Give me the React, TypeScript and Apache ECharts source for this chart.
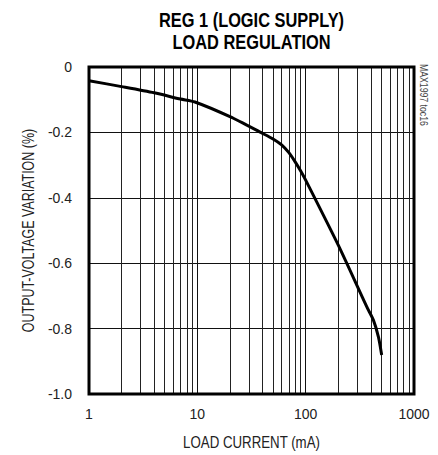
import React, { useEffect, useRef } from "react";
import * as echarts from "echarts";

const loadCurrent = [1, 2, 4, 7, 9.5, 20, 40, 50, 60, 70, 80, 90, 100, 200, 366, 422, 470, 503];
const voltageVariation = [-0.042, -0.06, -0.079, -0.098, -0.107, -0.152, -0.203, -0.22, -0.238, -0.262, -0.29, -0.318, -0.346, -0.545, -0.733, -0.774, -0.826, -0.881];
const minorGridValues = [2, 3, 4, 5, 6, 7, 8, 9, 20, 30, 40, 50, 60, 70, 80, 90, 200, 300, 400, 500, 600, 700, 800, 900];
const titleLines = ["REG 1 (LOGIC SUPPLY)", "LOAD REGULATION"];
const xAxisName = "LOAD CURRENT (mA)";
const yAxisName = "OUTPUT-VOLTAGE VARIATION (%)";
const sideNote = "MAX1997 toc16";

const FONT = '"Liberation Sans", Arial, sans-serif';

export default function App() {
  const ref = useRef<HTMLDivElement>(null);
  useEffect(() => {
    if (!ref.current) return;
    const chart = echarts.init(ref.current, undefined, { renderer: "svg" });
    const data = loadCurrent.map((x, i) => [x, voltageVariation[i]]);
    chart.setOption({
      animation: false,
      backgroundColor: "#fff",
      grid: {
        left: 89,
        right: 24,
        top: 67,
        bottom: 61,
        show: true,
        borderColor: "#000",
        borderWidth: 3,
        backgroundColor: "transparent",
        z: 10,
      },
      xAxis: {
        type: "log",
        logBase: 10,
        min: 1,
        max: 1000,
        axisLine: { show: false },
        axisTick: { show: false },
        axisLabel: {
          fontFamily: FONT,
          fontSize: 14,
          color: "#222",
          margin: 13,
          formatter: (v: number) => String(Math.round(v)),
        },
        splitLine: { show: true, lineStyle: { color: "#111", width: 1 } },
      },
      yAxis: {
        type: "value",
        min: -1,
        max: 0,
        interval: 0.2,
        axisLine: { show: false },
        axisTick: { show: false },
        axisLabel: {
          fontFamily: FONT,
          fontSize: 14,
          color: "#222",
          margin: 17,
          formatter: (v: number) => (Math.abs(v) < 1e-9 ? "0" : v.toFixed(1)),
        },
        splitLine: { show: true, lineStyle: { color: "#111", width: 1 } },
      },
      graphic: [
        {
          type: "text",
          x: 251.5,
          y: 20,
          scaleX: 0.82,
          style: {
            text: titleLines[0],
            fontFamily: FONT,
            fontSize: 20,
            fontWeight: "bold",
            fill: "#000",
            align: "center",
            verticalAlign: "middle",
          },
        },
        {
          type: "text",
          x: 251.5,
          y: 42,
          scaleX: 0.82,
          style: {
            text: titleLines[1],
            fontFamily: FONT,
            fontSize: 20,
            fontWeight: "bold",
            fill: "#000",
            align: "center",
            verticalAlign: "middle",
          },
        },
        {
          type: "text",
          x: 251.5,
          y: 443,
          scaleX: 0.83,
          style: {
            text: xAxisName,
            fontFamily: FONT,
            fontSize: 16,
            fill: "#222",
            align: "center",
            verticalAlign: "middle",
          },
        },
        {
          type: "text",
          x: 28,
          y: 230.5,
          rotation: Math.PI / 2,
          scaleX: 0.78,
          style: {
            text: yAxisName,
            fontFamily: FONT,
            fontSize: 16,
            fill: "#222",
            align: "center",
            verticalAlign: "middle",
          },
        },
        {
          type: "text",
          x: 423,
          y: 64,
          rotation: -Math.PI / 2,
          scaleX: 0.87,
          style: {
            text: sideNote,
            fontFamily: FONT,
            fontSize: 10,
            fill: "#444",
            align: "left",
            verticalAlign: "middle",
          },
        },
      ],
      series: [
        {
          type: "line",
          data,
          smooth: 0.25,
          symbol: "none",
          lineStyle: { color: "#000", width: 3 },
          z: 5,
          markLine: {
            silent: true,
            symbol: "none",
            label: { show: false },
            lineStyle: { color: "#222", width: 1, type: "solid" },
            data: minorGridValues.map((v) => ({ xAxis: v })),
            z: 1,
          },
        },
      ],
    });
    return () => chart.dispose();
  }, []);
  return <div ref={ref} style={{ position: "fixed", left: 0, top: 0, width: 438, height: 455 }} />;
}
